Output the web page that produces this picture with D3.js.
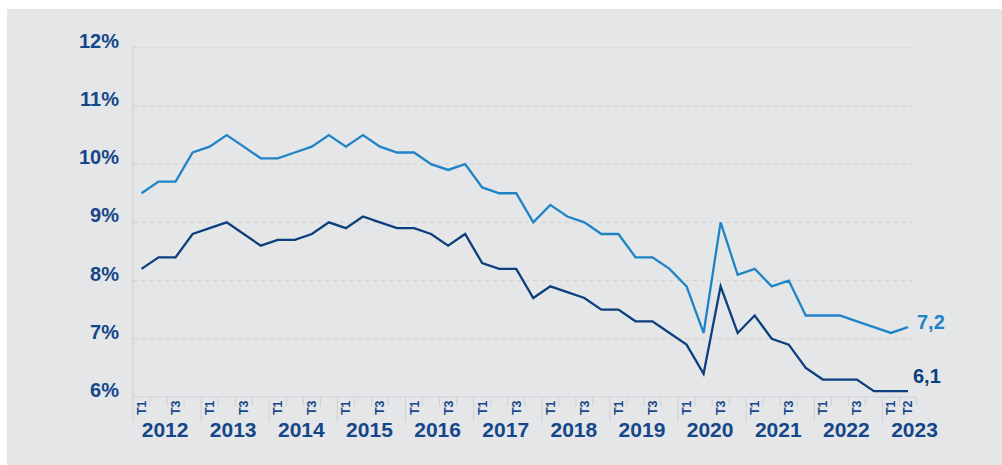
<!DOCTYPE html>
<html>
<head>
<meta charset="utf-8">
<script src="https://cdn.jsdelivr.net/npm/d3@7"></script>
<style>
  body { margin: 0; background: #ffffff; }
  svg { display: block; font-family: "Liberation Sans", Arial, sans-serif; }
</style>
</head>
<body>
<svg id="chart" width="1002" height="465"></svg>
<script>
// Years and quarters of the series (2012 T1 .. 2023 T2)
var years = [2012, 2013, 2014, 2015, 2016, 2017, 2018, 2019, 2020, 2021, 2022, 2023];
var quarterNames = ["T1", "T2", "T3", "T4"];
var quarterLabelsShown = ["T1", "T3"];

// Light blue series (upper line)
var seriesLight = [
  9.5, 9.7, 9.7, 10.2,
  10.3, 10.5, 10.3, 10.1,
  10.1, 10.2, 10.3, 10.5,
  10.3, 10.5, 10.3, 10.2,
  10.2, 10.0, 9.9, 10.0,
  9.6, 9.5, 9.5, 9.0,
  9.3, 9.1, 9.0, 8.8,
  8.8, 8.4, 8.4, 8.2,
  7.9, 7.1, 9.0, 8.1,
  8.2, 7.9, 8.0, 7.4,
  7.4, 7.4, 7.3, 7.2,
  7.1, 7.2
];

// Dark blue series (lower line)
var seriesDark = [
  8.2, 8.4, 8.4, 8.8,
  8.9, 9.0, 8.8, 8.6,
  8.7, 8.7, 8.8, 9.0,
  8.9, 9.1, 9.0, 8.9,
  8.9, 8.8, 8.6, 8.8,
  8.3, 8.2, 8.2, 7.7,
  7.9, 7.8, 7.7, 7.5,
  7.5, 7.3, 7.3, 7.1,
  6.9, 6.4, 7.9, 7.1,
  7.4, 7.0, 6.9, 6.5,
  6.3, 6.3, 6.3, 6.1,
  6.1, 6.1
];

var yTicks = [6, 7, 8, 9, 10, 11, 12];
var endLabelLight = "7,2";
var endLabelDark = "6,1";

var colorLight = "#1f83c7";
var colorDark = "#0c3f7d";
var textColor = "#15468a";
var axisColor = "#cfd0d3";

// build quarter keys
var periods = [];
years.forEach(function (yr) {
  quarterNames.forEach(function (q) {
    if (periods.length < seriesLight.length) periods.push({ year: yr, q: q, key: yr + "-" + q });
  });
});

var svg = d3.select("svg#chart");

// gray panel
svg.append("rect")
  .attr("x", 7).attr("y", 9)
  .attr("width", 995).attr("height", 456)
  .attr("fill", "#e5e6e8");

var plotLeft = 133, plotRight = 916.5, plotTop = 47.7, plotBottom = 397;

var x = d3.scaleBand()
  .domain(periods.map(function (d) { return d.key; }))
  .range([plotLeft, plotRight])
  .padding(0);

var y = d3.scaleLinear()
  .domain([6, 12])
  .range([plotBottom, plotTop]);

function cx(i) { return x(periods[i].key) + x.bandwidth() / 2; }

// gridlines (dashed)
svg.append("g")
  .selectAll("line")
  .data(yTicks.filter(function (d) { return d > 6; }))
  .enter().append("line")
    .attr("x1", plotLeft).attr("x2", 913)
    .attr("y1", function (d) { return y(d); })
    .attr("y2", function (d) { return y(d); })
    .attr("stroke", "#cfd0d3")
    .attr("stroke-width", 1)
    .attr("stroke-dasharray", "4,4");

// y labels
svg.append("g")
  .selectAll("text")
  .data(yTicks)
  .enter().append("text")
    .attr("x", 119)
    .attr("y", function (d) { return y(d); })
    .attr("text-anchor", "end")
    .attr("fill", textColor)
    .attr("font-size", 20)
    .attr("font-weight", "bold")
    .text(function (d) { return d + "%"; });

// axes lines
svg.append("line")
  .attr("x1", plotLeft).attr("x2", plotLeft)
  .attr("y1", 45.5).attr("y2", plotBottom)
  .attr("stroke", axisColor).attr("stroke-width", 1.2);
svg.append("line")
  .attr("x1", plotLeft).attr("x2", plotRight)
  .attr("y1", plotBottom).attr("y2", plotBottom)
  .attr("stroke", axisColor).attr("stroke-width", 1.2);

// quarter ticks (long at year start)
var tickG = svg.append("g");
periods.forEach(function (p) {
  var xs = x(p.key);
  tickG.append("line")
    .attr("x1", xs).attr("x2", xs)
    .attr("y1", plotBottom)
    .attr("y2", p.q == "T1" ? 422 : 406)
    .attr("stroke", axisColor).attr("stroke-width", 1);
});
tickG.append("line")
  .attr("x1", plotRight).attr("x2", plotRight)
  .attr("y1", plotBottom).attr("y2", 406)
  .attr("stroke", axisColor).attr("stroke-width", 1);

// quarter labels (rotated)
svg.append("g")
  .selectAll("text")
  .data(periods.filter(function (p, i) {
    return quarterLabelsShown.indexOf(p.q) >= 0 || i == periods.length - 1;
  }))
  .enter().append("text")
    .attr("transform", function (p) {
      return "translate(" + (x(p.key) + x.bandwidth() / 2) + ",400.5) rotate(-90)";
    })
    .attr("dy", "0.36em")
    .attr("text-anchor", "end")
    .attr("fill", textColor)
    .attr("font-size", 12.5)
    .attr("font-weight", "bold")
    .text(function (p) { return p.q; });

// year labels
svg.append("g")
  .selectAll("text")
  .data(years)
  .enter().append("text")
    .attr("x", function (yr) { return x(yr + "-T1") + 2 * x.bandwidth() - 2; })
    .attr("y", 437)
    .attr("text-anchor", "middle")
    .attr("fill", textColor)
    .attr("font-size", 21)
    .attr("font-weight", "bold")
    .text(function (yr) { return yr; });

// lines
var line = d3.line()
  .x(function (d, i) { return cx(i); })
  .y(function (d) { return y(d); });

svg.append("path")
  .datum(seriesLight)
  .attr("d", line)
  .attr("fill", "none")
  .attr("stroke", colorLight)
  .attr("stroke-width", 2.3)
  .attr("stroke-linejoin", "miter");

svg.append("path")
  .datum(seriesDark)
  .attr("d", line)
  .attr("fill", "none")
  .attr("stroke", colorDark)
  .attr("stroke-width", 2.3)
  .attr("stroke-linejoin", "miter");

// end labels
var last = periods.length - 1;
svg.append("text")
  .attr("x", cx(last) + 9)
  .attr("y", y(seriesLight[last]) + 2)
  .attr("fill", colorLight)
  .attr("font-size", 20)
  .attr("font-weight", "bold")
  .text(endLabelLight);

svg.append("text")
  .attr("x", cx(last) + 5)
  .attr("y", y(seriesDark[last]) - 8)
  .attr("fill", colorDark)
  .attr("font-size", 20)
  .attr("font-weight", "bold")
  .text(endLabelDark);
</script>
</body>
</html>
